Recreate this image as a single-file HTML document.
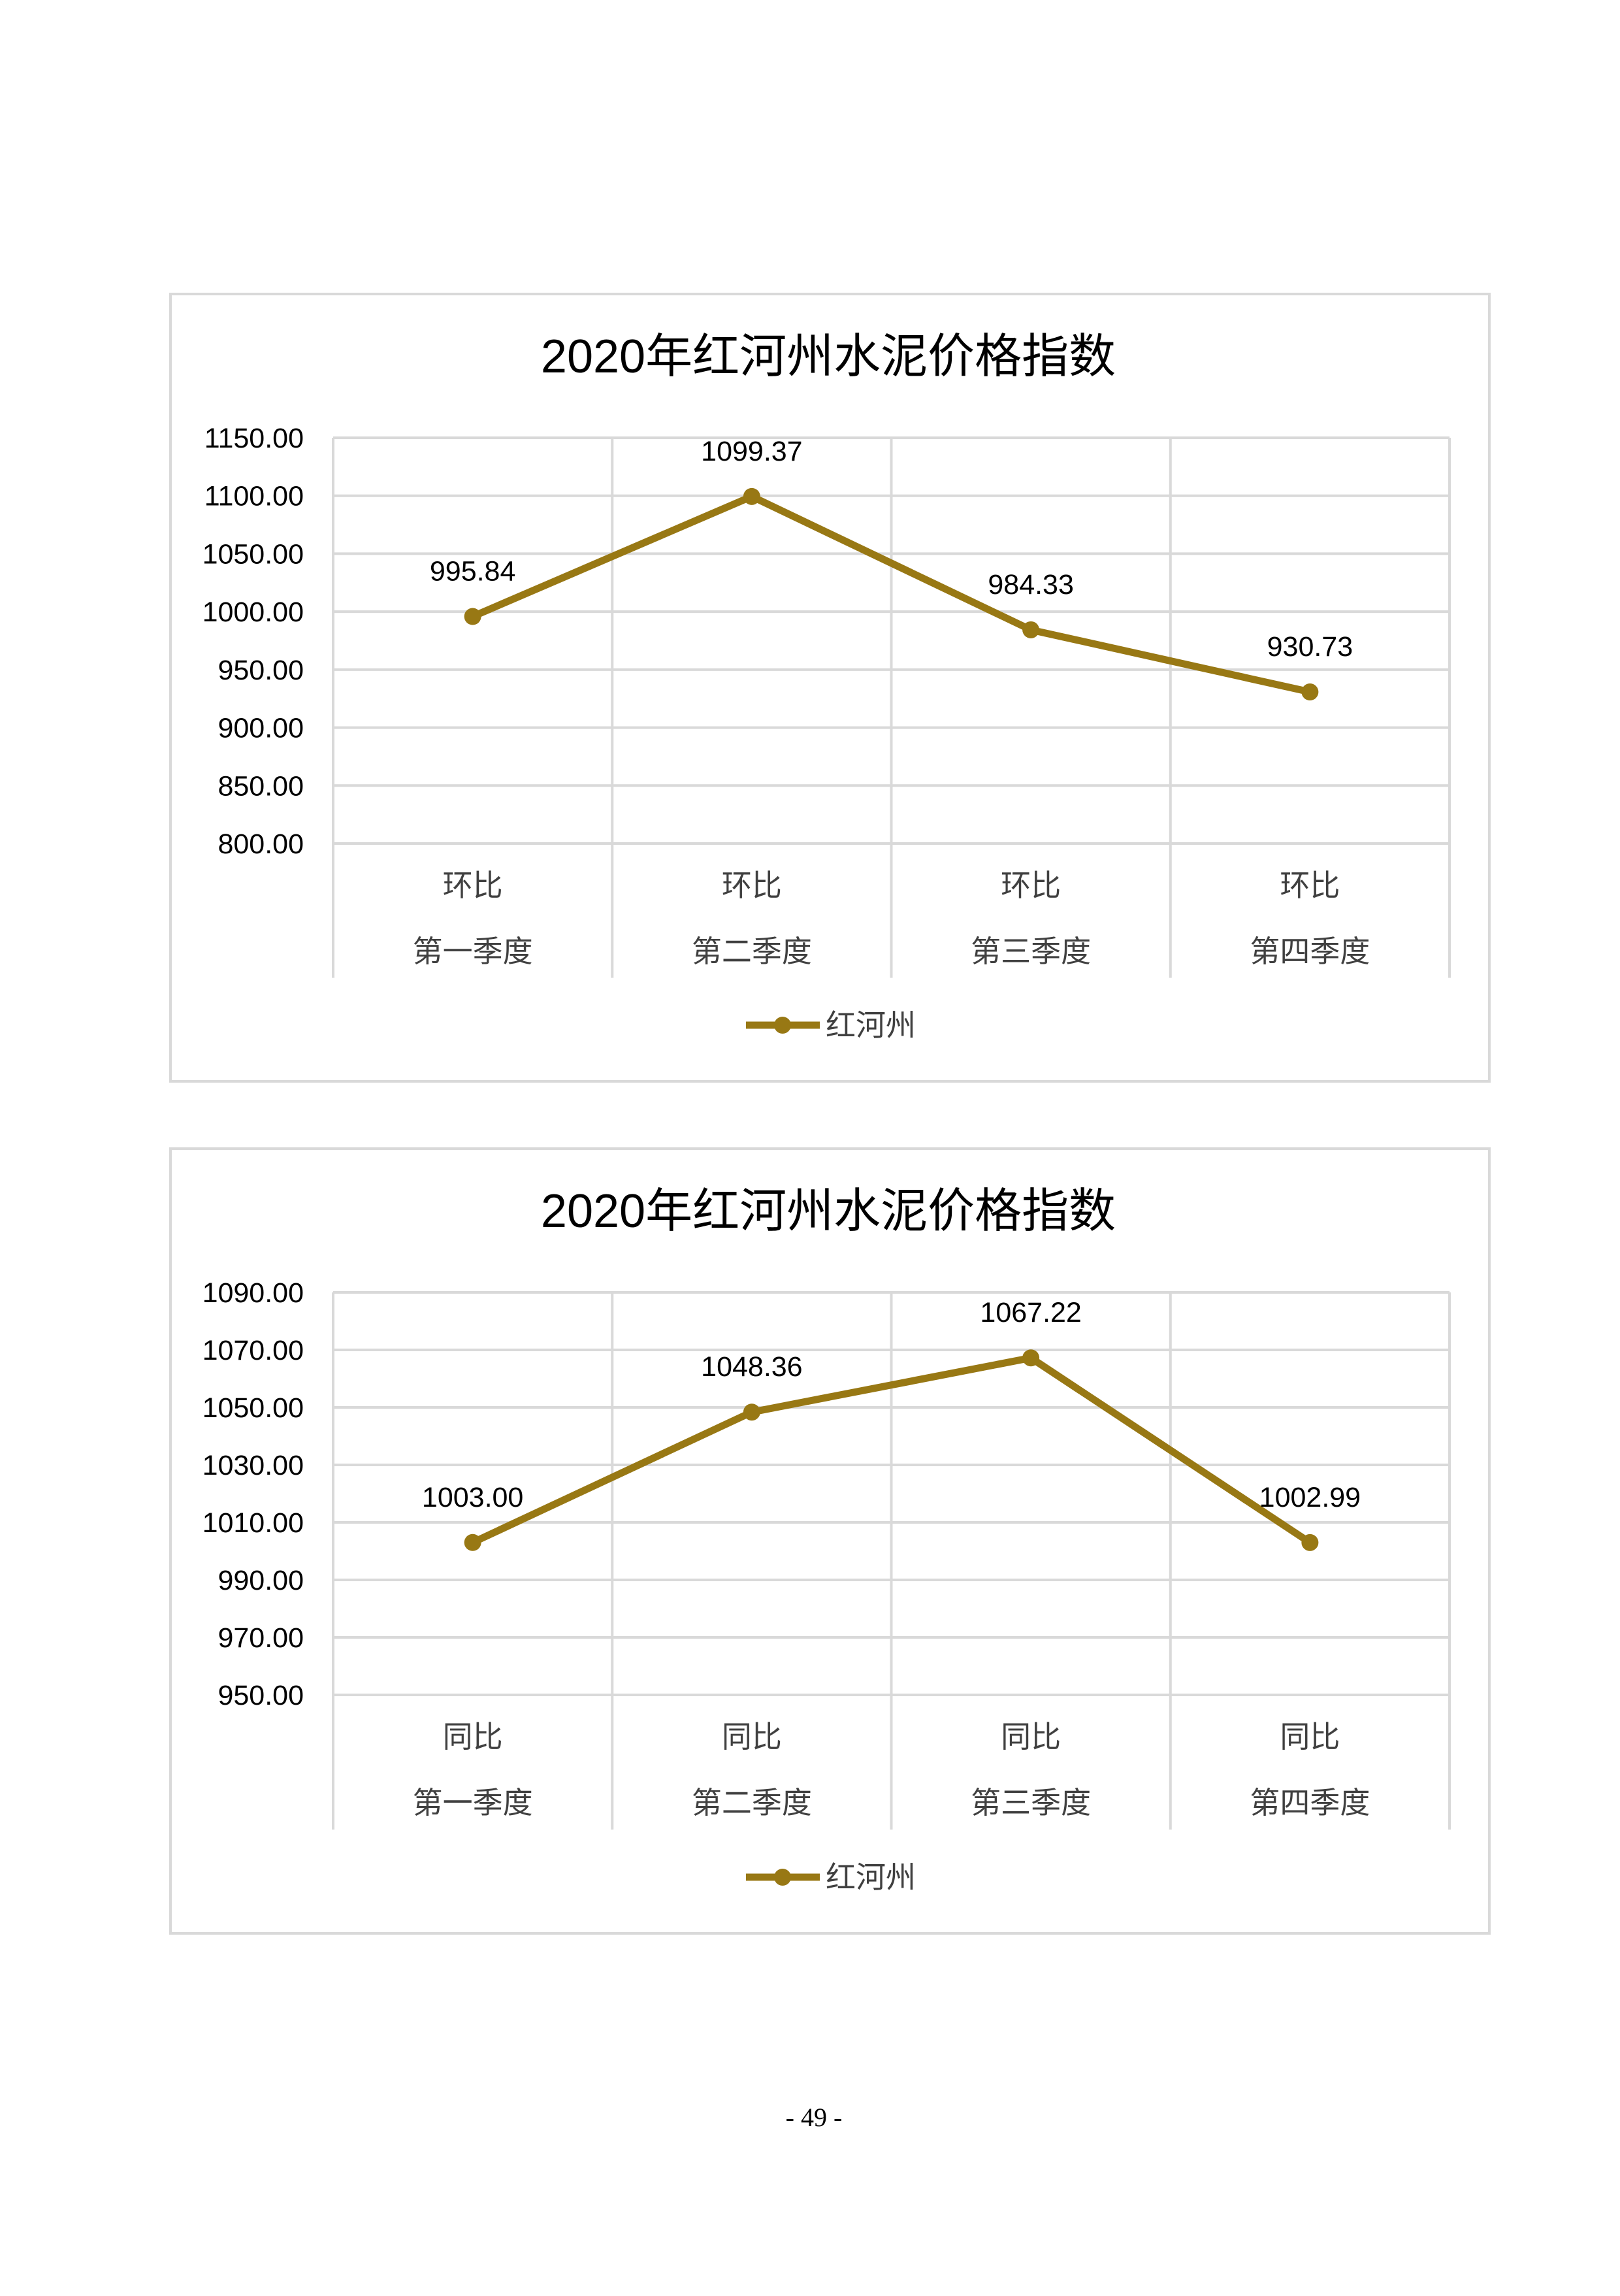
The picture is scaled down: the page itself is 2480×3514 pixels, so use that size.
<!DOCTYPE html>
<html><head><meta charset="utf-8">
<style>
html,body{margin:0;padding:0;background:#fff;}
svg text{font-family:"Liberation Sans","Noto Sans CJK SC",sans-serif;}
</style></head>
<body>
<svg id="page" width="2480" height="3509" viewBox="0 0 2480 3509" xmlns="http://www.w3.org/2000/svg">
<text x="1246" y="3254" text-anchor="middle" font-size="40" fill="#000" style="font-family:'Liberation Serif',serif">- 49 -</text>
</svg>
<script>
const categoriesTop = ["环比|第一季度","环比|第二季度","环比|第三季度","环比|第四季度"];
const valuesTop = [995.84, 1099.37, 984.33, 930.73];
const ticksTop = [800,850,900,950,1000,1050,1100,1150];
const categoriesBottom = ["同比|第一季度","同比|第二季度","同比|第三季度","同比|第四季度"];
const valuesBottom = [1003.00, 1048.36, 1067.22, 1002.99];
const ticksBottom = [950,970,990,1010,1030,1050,1070,1090];
const seriesName = "红河州";
const chartTitle = "2020年红河州水泥价格指数";

const NS="http://www.w3.org/2000/svg";
const svg=document.getElementById('page');
const COLOR="#987814";
function mk(tag,attrs,parent){const e=document.createElementNS(NS,tag);for(const k in attrs)e.setAttribute(k,attrs[k]);(parent||svg).appendChild(e);return e;}

function drawChart(name,boxTop,boxBottom,plotTop,plotBottom,cats,vals,ticks){
  const g=mk('g',{});
  
  
  const box=mk('rect',{x:261,y:boxTop,width:2019,height:boxBottom-boxTop,fill:'#fff',stroke:'#d9d9d9','stroke-width':4},g);
  
  
  const t=mk('text',{x:1268,y:boxTop+120,'text-anchor':'middle','font-size':72,fill:'#000'},g);
  t.textContent=chartTitle;
  
  
  const L=510,R=2219;
  const mn=ticks[0],mx=ticks[ticks.length-1];
  const y=v=>plotBottom-(v-mn)/(mx-mn)*(plotBottom-plotTop);
  const bw=(R-L)/cats.length;
  const x=i=>L+bw*(i+0.5);
  ticks.forEach(tv=>{
    const ln=mk('line',{x1:L,x2:R,y1:y(tv),y2:y(tv),stroke:'#d9d9d9','stroke-width':4},g);
    
    
    const tl=mk('text',{x:465,y:y(tv)+15,'text-anchor':'end','font-size':43,fill:'#000'},g);
    tl.textContent=tv.toFixed(2);
    
    
  });
  const vEnd=plotBottom+(boxBottom-plotBottom)*0.565;
  for(let i=0;i<=cats.length;i++){
    const vx=L+bw*i;
    const vl=mk('line',{x1:vx,x2:vx,y1:plotTop,y2:vEnd,stroke:'#d9d9d9','stroke-width':4},g);
    
    
  }
  cats.forEach((c,i)=>{
    const parts=c.split('|');
    const a=mk('text',{x:x(i),y:plotBottom+80,'text-anchor':'middle','font-size':46,fill:'#404040'},g);
    a.textContent=parts[0];
    
    
    const b=mk('text',{x:x(i),y:plotBottom+181,'text-anchor':'middle','font-size':46,fill:'#404040'},g);
    b.textContent=parts[1];
    
    
  });
  const pts=vals.map((v,i)=>x(i)+','+y(v)).join(' ');
  const pl=mk('polyline',{points:pts,fill:'none',stroke:COLOR,'stroke-width':11,'stroke-linejoin':'round'},g);
  
  
  vals.forEach((v,i)=>{
    const c=mk('circle',{cx:x(i),cy:y(v),r:13,fill:COLOR},g);
    
    
    const dl=mk('text',{x:x(i),y:y(v)-55,'text-anchor':'middle','font-size':43,fill:'#000'},g);
    dl.textContent=v.toFixed(2);
    
    
  });
  const ly=boxBottom-86;
  const lg=mk('line',{x1:1142,x2:1255,y1:ly,y2:ly,stroke:COLOR,'stroke-width':11},g);
  
  
  const lc=mk('circle',{cx:1198,cy:ly,r:13,fill:COLOR},g);
  
  
  const lt=mk('text',{x:1264,y:ly+16,'font-size':46,fill:'#404040'},g);
  lt.textContent=seriesName;
  
  
}
drawChart('chart-qoq',450,1655,670,1291,categoriesTop,valuesTop,ticksTop);
drawChart('chart-yoy',1758,2959,1978,2594,categoriesBottom,valuesBottom,ticksBottom);
</script>
</body></html>
